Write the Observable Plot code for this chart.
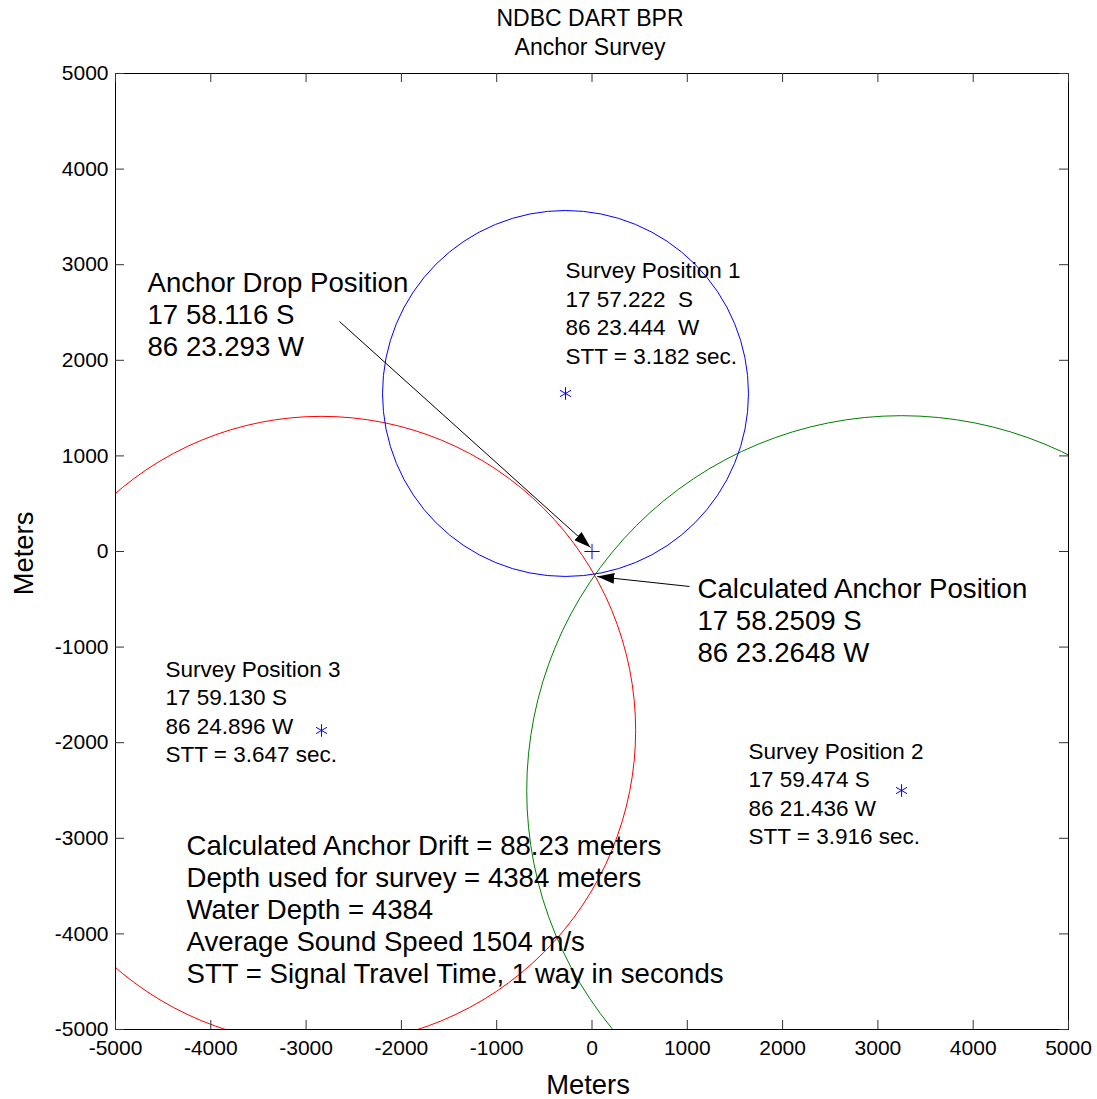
<!DOCTYPE html>
<html><head><meta charset="utf-8">
<script src="https://cdn.jsdelivr.net/npm/d3@7"></script>
<script src="https://cdn.jsdelivr.net/npm/@observablehq/plot@0.6"></script>
<style>
body{margin:0;background:#fff}
svg{display:block}
svg text{white-space:pre}
</style>
</head><body><div id="chart"></div>
<script>
// ---- data ----
const titleText = "NDBC DART BPR\nAnchor Survey";
const axisLabel = "Meters";
const xTicks = [-5000,-4000,-3000,-2000,-1000,0,1000,2000,3000,4000,5000];
const yTicks = [-5000,-4000,-3000,-2000,-1000,0,1000,2000,3000,4000,5000];

const surveyNames = ["Survey Position 1","Survey Position 2","Survey Position 3"];
const surveyX = [-278, 3248, -2838];
const surveyY = [1653, -2500, -1872];
const rangeRadius = [1920, 3933, 3296];
const circleColors = ["#0000ff","#008000","#ff0000"];
const surveyLat = ["17 57.222  S","17 59.474 S","17 59.130 S"];
const surveyLon = ["86 23.444  W","86 21.436 W","86 24.896 W"];
const surveySTT = ["3.182","3.916","3.647"];
const surveyLabelX = [-278, 1642, -4475];
const surveyLabelY = [2505, -2521, -1664];

const dropX = [0];
const dropY = [0];

const arrowX1 = [-2650, 1023];
const arrowY1 = [2406, -366];
const arrowX2 = [-15, 55];
const arrowY2 = [42, -262];

const noteTexts = [
  "Anchor Drop Position\n17 58.116 S\n86 23.293 W",
  "Calculated Anchor Position\n17 58.2509 S\n86 23.2648 W",
  "Calculated Anchor Drift = 88.23 meters\nDepth used for survey = 4384 meters\nWater Depth = 4384\nAverage Sound Speed 1504 m/s\nSTT = Signal Travel Time, 1 way in seconds"
];
const noteX = [-4664, 1107, -4255];
const noteY = [2489, -712, -3735];

// ---- tables ----
const surveys = surveyNames.map((name, i) => ({
  name, x: surveyX[i], y: surveyY[i], r: rangeRadius[i], color: circleColors[i],
  label: `${name}\n${surveyLat[i]}\n${surveyLon[i]}\nSTT = ${surveySTT[i]} sec.`,
  lx: surveyLabelX[i], ly: surveyLabelY[i]
}));
const drops = dropX.map((x, i) => ({x, y: dropY[i]}));
const arrows = arrowX1.map((x1, i) => ({x1, y1: arrowY1[i], x2: arrowX2[i], y2: arrowY2[i]}));
const notes = noteTexts.map((t, i) => ({t, x: noteX[i], y: noteY[i]}));

const W = 1097, H = 1099, ML = 115, MR = 29, MT = 73, MB = 70;
const FW = W - ML - MR, FH = H - MT - MB;

const chart = Plot.plot({
  width: W, height: H,
  marginLeft: ML, marginRight: MR, marginTop: MT, marginBottom: MB,
  x: {domain: [-5000, 5000]},
  y: {domain: [-5000, 5000]},
  r: {type: "linear", domain: [0, 10000], range: [0, FW]},
  color: {type: "identity"},
  style: {fontFamily: "'Liberation Sans', Arial, sans-serif", fontSize: "21px", color: "black", background: "white"},
  marks: [
    Plot.dot(surveys, {x: "x", y: "y", r: "r", stroke: "color", fill: "none", strokeWidth: 1, clip: true}),
    Plot.dot(surveys, {x: "x", y: "y", symbol: "asterisk", r: 6, stroke: "#0000ff", strokeWidth: 1}),
    Plot.dot(drops, {x: "x", y: "y", symbol: "plus", r: 5, stroke: "#0000ff", strokeWidth: 1}),
    Plot.link(arrows, {x1: "x1", y1: "y1", x2: "x2", y2: "y2", stroke: "black", strokeWidth: 1}),
    Plot.text(surveys, {x: "lx", y: "ly", text: "label", textAnchor: "start", lineAnchor: "middle", fontSize: 22.5, lineHeight: 1.265, fill: "black"}),
    Plot.text(notes, {x: "x", y: "y", text: "t", textAnchor: "start", lineAnchor: "middle", fontSize: 27.6, lineHeight: 1.16, fill: "black"}),
    Plot.frame({stroke: "black", strokeWidth: 1}),
    Plot.tickX(xTicks, {x: d => d, insetTop: FH - 9, stroke: "#333", strokeWidth: 1}),
    Plot.tickX(xTicks, {x: d => d, insetBottom: FH - 9, stroke: "#333", strokeWidth: 1}),
    Plot.tickY(yTicks, {y: d => d, insetRight: FW - 9, stroke: "#333", strokeWidth: 1}),
    Plot.tickY(yTicks, {y: d => d, insetLeft: FW - 9, stroke: "#333", strokeWidth: 1}),
    Plot.axisX({ticks: xTicks, tickSize: 0, tickPadding: 11, tickFormat: d => String(d), label: null, fontSize: 21}),
    Plot.axisY({ticks: yTicks, tickSize: 0, tickPadding: 7, tickFormat: d => String(d), label: null, fontSize: 21}),
    Plot.text([titleText], {frameAnchor: "top", text: d => d, lineAnchor: "middle", dy: -42, dx: -2, lineHeight: 1.22, fontSize: 23, fill: "black"}),
    Plot.text([axisLabel], {frameAnchor: "bottom", text: d => d, dy: 64, dx: -4, fontSize: 27.4, fill: "black"}),
    Plot.text([axisLabel], {frameAnchor: "left", text: d => d, textAnchor: "middle", rotate: -90, dx: -91, dy: 2, fontSize: 27.4, fill: "black"})
  ]
});
document.getElementById("chart").appendChild(chart);

// filled arrowheads on the annotation arrows
const svg = d3.select(chart);
svg.append("defs").append("marker")
  .attr("id", "ahead").attr("viewBox", "0 -5.5 17 11")
  .attr("refX", 17).attr("refY", 0)
  .attr("markerWidth", 17).attr("markerHeight", 11)
  .attr("markerUnits", "userSpaceOnUse").attr("orient", "auto")
  .append("path").attr("d", "M0,-5.5L17,0L0,5.5Z").attr("fill", "black");
svg.selectAll('g[aria-label="link"] path').attr("marker-end", "url(#ahead)");
</script>
</body></html>
